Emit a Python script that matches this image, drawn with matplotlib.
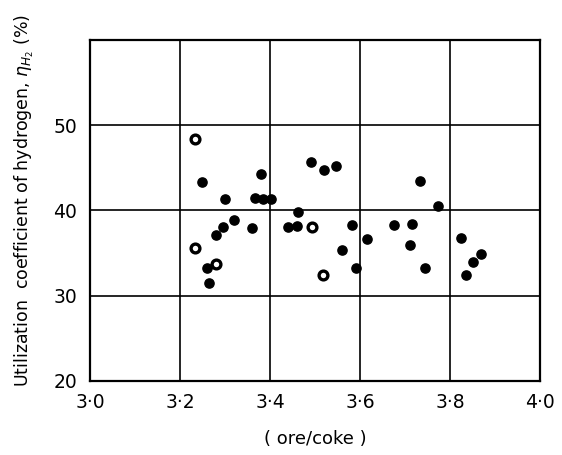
import numpy as np
import matplotlib.pyplot as plt

# filled points (ore/coke, utilization %)
ratio_filled = [3.248, 3.261, 3.264, 3.280, 3.295, 3.301, 3.320, 3.361, 3.367,
                3.379, 3.384, 3.403, 3.441, 3.461, 3.463, 3.491, 3.521, 3.546,
                3.561, 3.583, 3.591, 3.616, 3.675, 3.712, 3.715, 3.733, 3.744,
                3.774, 3.824, 3.835, 3.851, 3.868]
eta_filled = [43.3, 33.3, 31.5, 37.1, 38.1, 41.3, 38.9, 37.9, 41.5,
              44.3, 41.4, 41.3, 38.0, 38.2, 39.8, 45.7, 44.7, 45.2,
              35.3, 38.3, 33.2, 36.7, 38.3, 35.9, 38.4, 43.5, 33.2,
              40.5, 36.8, 32.4, 34.0, 34.9]

# open points
ratio_open = [3.233, 3.233, 3.281, 3.493, 3.517]
eta_open = [48.4, 35.6, 33.7, 38.0, 32.4]

x_ticks = [3.0, 3.2, 3.4, 3.6, 3.8, 4.0]
x_labels = ["3·0", "3·2", "3·4", "3·6", "3·8", "4·0"]
y_ticks = [20, 30, 40, 50]

fig = plt.figure(figsize=(5.62, 4.55), dpi=100)
ax = fig.add_axes([0.160, 0.163, 0.801, 0.749])

ax.scatter(ratio_filled, eta_filled, s=44, color="black", zorder=3)
ax.scatter(ratio_open, eta_open, s=40, facecolor="white", edgecolor="black",
           linewidth=2.4, zorder=3)

ax.set_xlim(3.0, 4.0)
ax.set_ylim(20, 60)
ax.set_xticks(x_ticks)
ax.set_xticklabels(x_labels)
ax.set_yticks(y_ticks + [60])
ax.set_yticklabels([str(v) for v in y_ticks] + [""])
ax.tick_params(length=0, labelsize=13.5, pad=9)
ax.grid(True, color="black", linewidth=1.2)
ax.set_axisbelow(True)
for sp in ax.spines.values():
    sp.set_linewidth(1.6)

ax.set_xlabel("( ore/coke )", fontsize=13, labelpad=13)
ax.set_ylabel(r"Utilization  coefficient of hydrogen, $\eta_{H_2}$ (%)",
              fontsize=12.5)
ax.yaxis.set_label_coords(-0.12, 0.53)

fig.savefig("out.png", dpi=100)
